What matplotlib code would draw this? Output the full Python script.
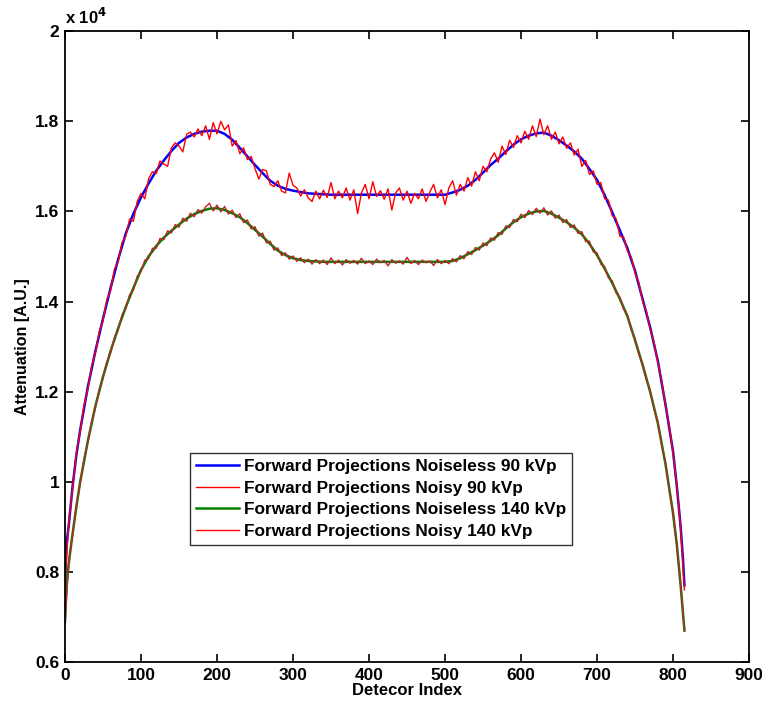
import numpy as np
import matplotlib
matplotlib.use('Agg')
import matplotlib.pyplot as plt
from matplotlib.ticker import FormatStrFormatter

plt.rcParams['font.family'] = ['Liberation Sans', 'DejaVu Sans']
plt.rcParams['font.weight'] = 'bold'

# attenuation values are in units of 1e4 (axis shows "x 10^4")

# noiseless curves
x_smooth = [0, 2, 5, 10, 15, 20, 30, 40, 50, 60, 70, 80, 90, 100, 110, 120, 130,
            140, 150, 160, 170, 180, 190, 200, 210, 220, 230, 240, 250, 260, 270,
            280, 290, 300, 310, 320, 330, 340, 350, 400, 450, 500, 510, 520, 530,
            540, 550, 560, 570, 580, 590, 600, 610, 620, 630, 640, 650, 660, 670,
            680, 690, 700, 710, 720, 730, 740, 750, 760, 770, 780, 790, 800, 805,
            810, 813, 815]
noiseless_90 = [0.780, 0.860, 0.905, 0.990, 1.060, 1.115, 1.210, 1.290, 1.362, 1.430,
                1.494, 1.551, 1.595, 1.631, 1.662, 1.690, 1.713, 1.734, 1.752, 1.764,
                1.772, 1.777, 1.779, 1.779, 1.772, 1.759, 1.741, 1.722, 1.703, 1.685,
                1.668, 1.657, 1.650, 1.646, 1.643, 1.640, 1.639, 1.638, 1.637, 1.637,
                1.637, 1.637, 1.642, 1.648, 1.657, 1.670, 1.686, 1.703, 1.717, 1.733,
                1.748, 1.760, 1.768, 1.773, 1.775, 1.768, 1.758, 1.746, 1.733, 1.717,
                1.694, 1.670, 1.636, 1.598, 1.558, 1.518, 1.468, 1.405, 1.342, 1.268,
                1.172, 1.067, 0.990, 0.900, 0.830, 0.770]
noiseless_140 = [0.690, 0.770, 0.820, 0.885, 0.945, 1.000, 1.090, 1.168, 1.233, 1.290,
                 1.341, 1.388, 1.430, 1.470, 1.500, 1.523, 1.542, 1.557, 1.571, 1.584,
                 1.594, 1.601, 1.606, 1.607, 1.603, 1.596, 1.587, 1.574, 1.559, 1.544,
                 1.528, 1.513, 1.503, 1.496, 1.492, 1.490, 1.489, 1.488, 1.488, 1.488,
                 1.488, 1.488, 1.490, 1.496, 1.505, 1.514, 1.524, 1.535, 1.547, 1.562,
                 1.576, 1.587, 1.595, 1.600, 1.601, 1.595, 1.586, 1.576, 1.564, 1.549,
                 1.528, 1.503, 1.473, 1.441, 1.406, 1.367, 1.314, 1.259, 1.199, 1.130,
                 1.040, 0.930, 0.860, 0.770, 0.710, 0.670]

# noisy curves, every 5th detector
x_noisy = list(range(0, 816, 5))
noisy_90 = [0.775, 0.910, 0.985, 1.065, 1.112, 1.170, 1.205, 1.256, 1.286, 1.333,
            1.357, 1.404, 1.424, 1.472, 1.488, 1.531, 1.545, 1.583, 1.578, 1.622,
            1.640, 1.628, 1.672, 1.688, 1.684, 1.712, 1.705, 1.700, 1.741, 1.752,
            1.745, 1.732, 1.771, 1.776, 1.765, 1.783, 1.768, 1.790, 1.760, 1.797,
            1.772, 1.800, 1.781, 1.792, 1.745, 1.757, 1.728, 1.741, 1.715, 1.722,
            1.695, 1.672, 1.693, 1.690, 1.660, 1.655, 1.668, 1.645, 1.641, 1.685,
            1.658, 1.652, 1.634, 1.648, 1.630, 1.622, 1.645, 1.628, 1.647, 1.631,
            1.664, 1.628, 1.645, 1.630, 1.652, 1.625, 1.648, 1.595, 1.641, 1.660,
            1.628, 1.666, 1.633, 1.646, 1.627, 1.650, 1.603, 1.641, 1.652, 1.625,
            1.645, 1.618, 1.640, 1.628, 1.650, 1.622, 1.643, 1.660, 1.630, 1.648,
            1.615, 1.652, 1.668, 1.636, 1.660, 1.645, 1.675, 1.656, 1.688, 1.668,
            1.700, 1.688, 1.716, 1.730, 1.709, 1.745, 1.726, 1.758, 1.742, 1.768,
            1.752, 1.778, 1.760, 1.790, 1.766, 1.805, 1.770, 1.790, 1.760, 1.776,
            1.750, 1.765, 1.740, 1.752, 1.725, 1.738, 1.700, 1.713, 1.682, 1.690,
            1.660, 1.664, 1.628, 1.625, 1.590, 1.584, 1.545, 1.543, 1.512, 1.499,
            1.463, 1.442, 1.400, 1.378, 1.338, 1.309, 1.265, 1.225, 1.169, 1.124,
            1.063, 0.993, 0.897, 0.760]
noisy_140 = [0.685, 0.823, 0.882, 0.948, 0.997, 1.050, 1.087, 1.133, 1.165, 1.204,
             1.230, 1.266, 1.286, 1.320, 1.337, 1.370, 1.384, 1.415, 1.425, 1.456,
             1.466, 1.492, 1.495, 1.518, 1.518, 1.540, 1.537, 1.557, 1.552, 1.571,
             1.565, 1.585, 1.578, 1.596, 1.588, 1.604, 1.596, 1.610, 1.618, 1.601,
             1.614, 1.599, 1.611, 1.594, 1.603, 1.586, 1.595, 1.575, 1.581, 1.561,
             1.566, 1.545, 1.552, 1.530, 1.534, 1.514, 1.519, 1.502, 1.508, 1.494,
             1.501, 1.489, 1.497, 1.486, 1.494, 1.483, 1.493, 1.484, 1.492, 1.482,
             1.497, 1.484, 1.492, 1.481, 1.493, 1.485, 1.491, 1.483, 1.496, 1.484,
             1.490, 1.482, 1.494, 1.486, 1.491, 1.479, 1.493, 1.485, 1.490, 1.483,
             1.498, 1.484, 1.491, 1.482, 1.492, 1.486, 1.490, 1.480, 1.493, 1.484,
             1.491, 1.484, 1.495, 1.488, 1.502, 1.495, 1.511, 1.504, 1.520, 1.514,
             1.530, 1.524, 1.541, 1.536, 1.553, 1.549, 1.568, 1.564, 1.582, 1.577,
             1.594, 1.586, 1.602, 1.593, 1.607, 1.596, 1.608, 1.592, 1.601, 1.585,
             1.592, 1.575, 1.582, 1.564, 1.570, 1.551, 1.555, 1.533, 1.534, 1.510,
             1.508, 1.483, 1.478, 1.452, 1.446, 1.419, 1.410, 1.383, 1.371, 1.337,
             1.318, 1.283, 1.262, 1.226, 1.202, 1.162, 1.133, 1.082, 1.043, 0.982,
             0.933, 0.857, 0.772, 0.668]

labels = ['Forward Projections Noiseless 90 kVp',
          'Forward Projections Noisy 90 kVp',
          'Forward Projections Noiseless 140 kVp',
          'Forward Projections Noisy 140 kVp']

fig = plt.figure(figsize=(7.62, 7.08), dpi=100)
ax = fig.add_axes([0.0853, 0.065, 0.8977, 0.891])

ax.plot(x_smooth, noiseless_90, color='blue', lw=1.8, label=labels[0])
ax.plot(x_noisy, noisy_90, color='red', lw=1.0, label=labels[1])
ax.plot(x_smooth, noiseless_140, color='green', lw=1.8, label=labels[2])
ax.plot(x_noisy, noisy_140, color='#c0252a', lw=1.0, label=labels[3])

ax.set_xlim(0, 900)
ax.set_ylim(0.6, 2.0)
ax.set_xticks(np.arange(0, 901, 100))
ax.set_yticks([0.6, 0.8, 1.0, 1.2, 1.4, 1.6, 1.8, 2.0])
ax.yaxis.set_major_formatter(FormatStrFormatter('%g'))
ax.tick_params(direction='in', length=6, width=1.2, top=True, right=True,
               labelsize=12.5, pad=4)
for s in ax.spines.values():
    s.set_linewidth(1.3)

ax.set_xlabel('Detecor Index', fontsize=12, fontweight='bold', labelpad=0)
ax.set_ylabel('Attenuation [A.U.]', fontsize=11.5, fontweight='bold', labelpad=4)
ax.text(0.0, 1.006, 'x 10$^{4}$', transform=ax.transAxes, fontsize=12,
        fontweight='bold', ha='left', va='bottom')

leg = ax.legend(loc='upper left', bbox_to_anchor=(0.183, 0.331), fontsize=12.4,
                handlelength=2.5, handletextpad=0.25, labelspacing=0.38,
                borderpad=0.35, borderaxespad=0, frameon=True, fancybox=False)
leg.get_frame().set_edgecolor('black')
leg.get_frame().set_linewidth(1.0)
leg.get_lines()[3].set_color('red')

fig.savefig('out.png', dpi=100)
